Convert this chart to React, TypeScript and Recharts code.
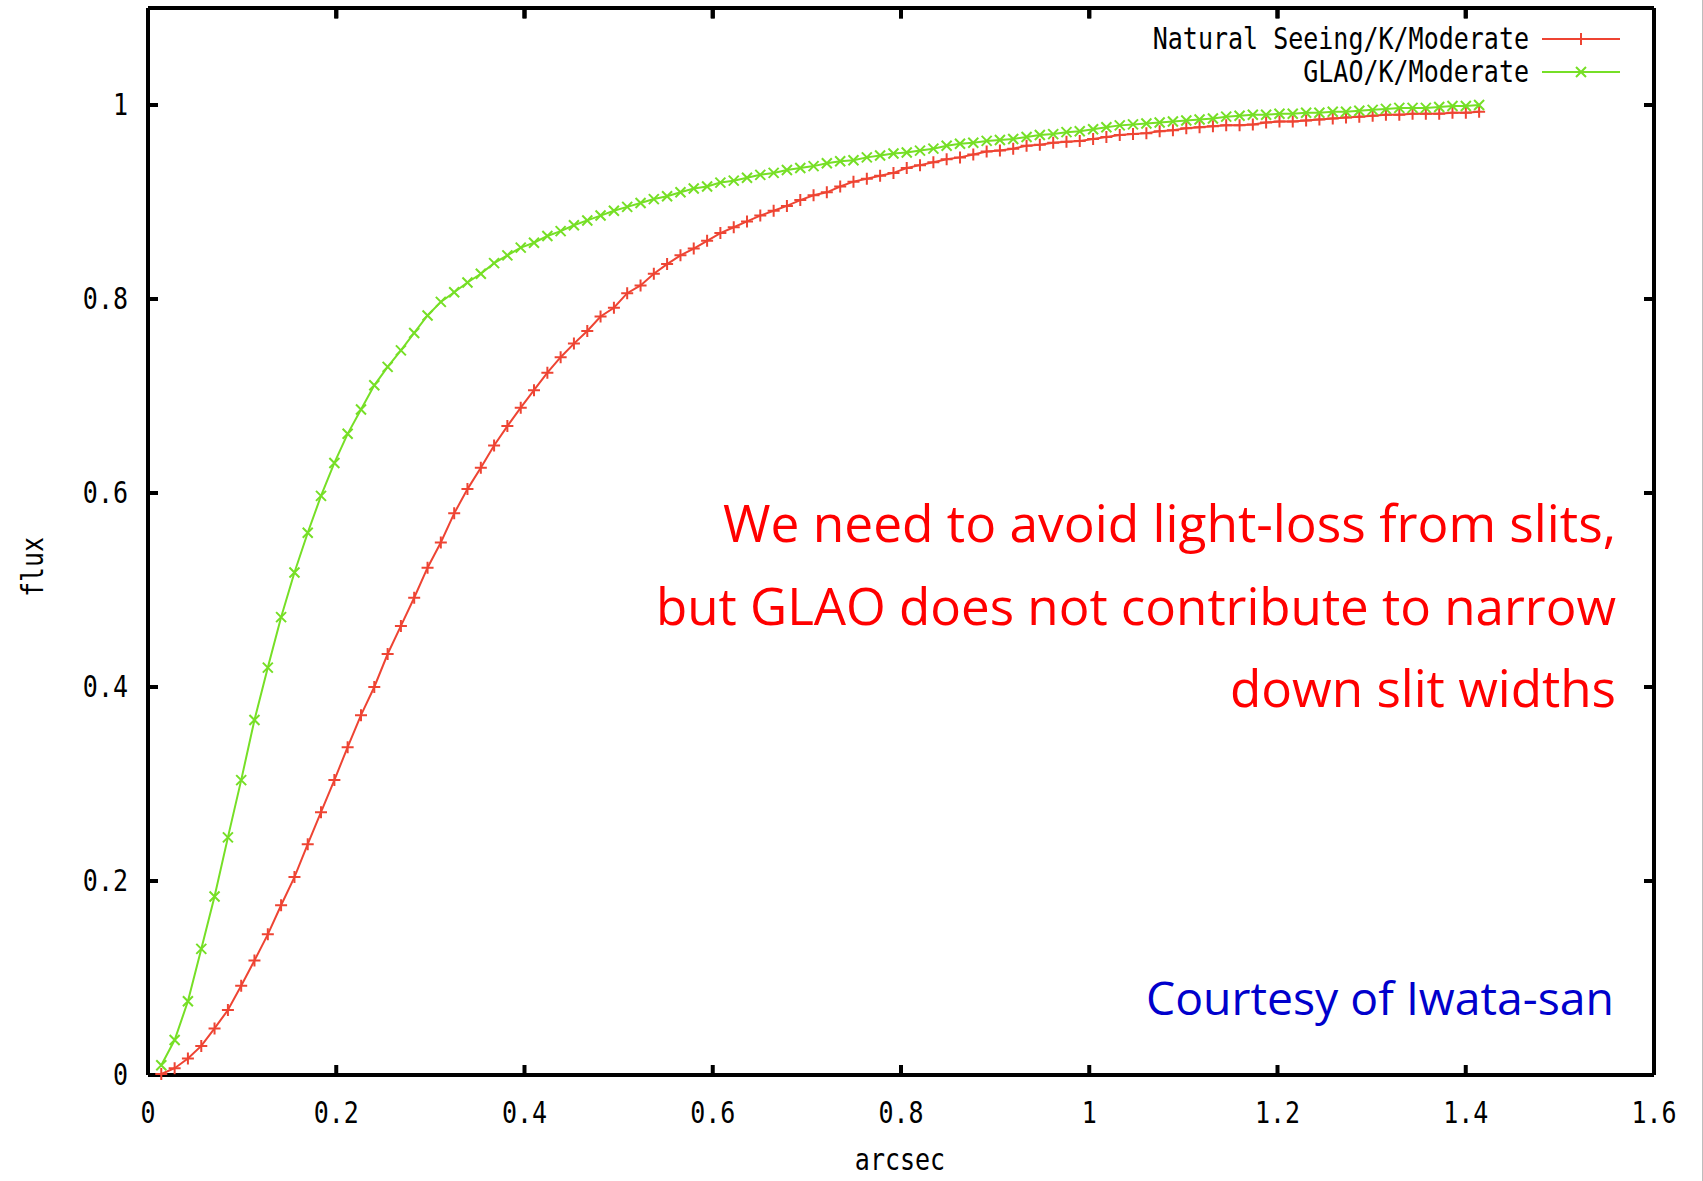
import { Line, LineChart, ReferenceLine, XAxis, YAxis } from 'recharts'

// sample radii (arcsec), one per plotted point
const ARCSEC = [
  0.0141, 0.0283, 0.0424, 0.0566, 0.0707, 0.0849, 0.099, 0.1131, 0.1273, 0.1414,
  0.1556, 0.1697, 0.1838, 0.198, 0.2121, 0.2263, 0.2404, 0.2546, 0.2687, 0.2828,
  0.297, 0.3111, 0.3253, 0.3394, 0.3536, 0.3677, 0.3818, 0.396, 0.4101, 0.4243,
  0.4384, 0.4525, 0.4667, 0.4808, 0.495, 0.5091, 0.5233, 0.5374, 0.5515, 0.5657,
  0.5798, 0.594, 0.6081, 0.6223, 0.6364, 0.6505, 0.6647, 0.6788, 0.693, 0.7071,
  0.7212, 0.7354, 0.7495, 0.7637, 0.7778, 0.792, 0.8061, 0.8202, 0.8344, 0.8485,
  0.8627, 0.8768, 0.891, 0.9051, 0.9192, 0.9334, 0.9475, 0.9617, 0.9758, 0.9899,
  1.0041, 1.0182, 1.0324, 1.0465, 1.0607, 1.0748, 1.0889, 1.1031, 1.1172, 1.1314,
  1.1455, 1.1597, 1.1738, 1.1879, 1.2021, 1.2162, 1.2304, 1.2445, 1.2587, 1.2728,
  1.2869, 1.3011, 1.3152, 1.3294, 1.3435, 1.3576, 1.3718, 1.3859, 1.4001, 1.4142,
]

const NATURAL_FLUX = [
  0.001, 0.007, 0.017, 0.03, 0.048, 0.067, 0.092, 0.118, 0.145, 0.175,
  0.204, 0.238, 0.271, 0.304, 0.338, 0.371, 0.4, 0.434, 0.463, 0.492,
  0.523, 0.549, 0.579, 0.604, 0.626, 0.649, 0.669, 0.688, 0.706, 0.724,
  0.74, 0.754, 0.767, 0.782, 0.791, 0.806, 0.814, 0.826, 0.836, 0.845,
  0.852, 0.86, 0.868, 0.874, 0.88, 0.886, 0.891, 0.896, 0.902, 0.907,
  0.91, 0.916, 0.921, 0.924, 0.927, 0.93, 0.935, 0.938, 0.941, 0.944,
  0.946, 0.949, 0.952, 0.953, 0.955, 0.958, 0.959, 0.961, 0.962, 0.963,
  0.965, 0.967, 0.969, 0.97, 0.971, 0.973, 0.974, 0.976, 0.977, 0.978,
  0.979, 0.979, 0.98, 0.982, 0.983, 0.983, 0.984, 0.985, 0.986, 0.987,
  0.988, 0.989, 0.99, 0.99, 0.991, 0.991, 0.991, 0.992, 0.992, 0.993,
]

const GLAO_FLUX = [
  0.01, 0.036, 0.076, 0.13, 0.184, 0.245, 0.304, 0.366, 0.42, 0.472,
  0.518, 0.559, 0.597, 0.631, 0.661, 0.686, 0.711, 0.73, 0.747, 0.765,
  0.783, 0.797, 0.807, 0.817, 0.826, 0.837, 0.845, 0.853, 0.858, 0.865,
  0.87, 0.876, 0.881, 0.886, 0.891, 0.895, 0.899, 0.903, 0.906, 0.91,
  0.914, 0.916, 0.92, 0.922, 0.925, 0.928, 0.93, 0.933, 0.935, 0.937,
  0.94, 0.942, 0.943, 0.946, 0.948, 0.95, 0.951, 0.953, 0.955, 0.958,
  0.96, 0.961, 0.963, 0.964, 0.965, 0.967, 0.969, 0.97, 0.972, 0.973,
  0.975, 0.977, 0.979, 0.98, 0.981, 0.982, 0.983, 0.984, 0.985, 0.986,
  0.988, 0.989, 0.99, 0.99, 0.991, 0.991, 0.992, 0.992, 0.993, 0.993,
  0.994, 0.995, 0.996, 0.997, 0.997, 0.997, 0.998, 0.999, 0.999, 1.0,
]

const X_TICKS = [0, 0.2, 0.4, 0.6, 0.8, 1, 1.2, 1.4, 1.6]
const Y_TICKS = [0, 0.2, 0.4, 0.6, 0.8, 1]
const Y_MAX = 1.1
const SERIES_NAMES = ['Natural Seeing/K/Moderate', 'GLAO/K/Moderate']
const NOTE_LINES = [
  'We need to avoid light-loss from slits,',
  'but GLAO does not contribute to narrow',
  'down slit widths',
]
const CREDIT = 'Courtesy of Iwata-san'

const RED = '#ee4433'
const GREEN = '#76df26'
const MONO = '"DejaVu Sans Mono", "Liberation Mono", monospace'
const SANS = '"Open Sans", "Noto Sans", sans-serif'

const data = ARCSEC.map((x, i) => ({ x, natural: NATURAL_FLUX[i], glao: GLAO_FLUX[i] }))

function plusPath(cx: number, cy: number, r: number) {
  return `M${cx - r},${cy}H${cx + r}M${cx},${cy - r}V${cy + r}`
}
function crossPath(cx: number, cy: number, r: number) {
  return `M${cx - r},${cy - r}L${cx + r},${cy + r}M${cx - r},${cy + r}L${cx + r},${cy - r}`
}

const PlusDot = (p: any) =>
  p.cx == null ? null : (
    <path key={`p${p.index}`} d={plusPath(p.cx, p.cy, 6)} stroke={RED} strokeWidth={2} fill="none" />
  )
const CrossDot = (p: any) =>
  p.cx == null ? null : (
    <path key={`c${p.index}`} d={crossPath(p.cx, p.cy, 5)} stroke={GREEN} strokeWidth={2} fill="none" />
  )

// gnuplot-ish tall mono labels
const MonoTick = ({ x, y, payload, anchor }: any) => (
  <g transform={`translate(${x},${y}) scale(1,1.2)`}>
    <text x={0} y={0} textAnchor={anchor} dominantBaseline="central" fontFamily={MONO} fontSize={25} fill="#000">
      {String(payload.value)}
    </text>
  </g>
)

const axisLine = { stroke: '#000', strokeWidth: 4 }
const tickLine = { stroke: '#000', strokeWidth: 4 }

export default function App() {
  return (
    <div
      style={{
        position: 'absolute',
        left: 0,
        top: 0,
        width: 1703,
        height: 1181,
        background: '#fff',
        boxSizing: 'border-box',
        borderRight: '1px solid #bdbdbd',
      }}
    >
      <LineChart width={1703} height={1181} data={data} margin={{ top: 8, right: 40, bottom: 46, left: 48 }}>
        <XAxis
          dataKey="x"
          type="number"
          domain={[0, 1.6]}
          ticks={X_TICKS}
          height={60}
          axisLine={axisLine}
          tickLine={tickLine}
          tickSize={-10}
          tickMargin={48}
          interval={0}
          tick={<MonoTick anchor="middle" />}
        />
        <XAxis
          xAxisId="top"
          dataKey="x"
          orientation="top"
          mirror
          type="number"
          domain={[0, 1.6]}
          ticks={X_TICKS}
          interval={0}
          height={12}
          axisLine={axisLine}
          tickLine={tickLine}
          tickSize={10}
          tickFormatter={() => ''}
        />
        <YAxis
          type="number"
          domain={[0, Y_MAX]}
          ticks={Y_TICKS}
          width={100}
          axisLine={axisLine}
          tickLine={tickLine}
          tickSize={-10}
          tickMargin={30}
          interval={0}
          tick={<MonoTick anchor="end" />}
        />
        <YAxis
          yAxisId="right"
          orientation="right"
          type="number"
          domain={[0, Y_MAX]}
          ticks={Y_TICKS}
          interval={0}
          width={9}
          axisLine={axisLine}
          tickLine={tickLine}
          tickSize={-10}
          tickFormatter={() => ''}
        />
        {/* top frame ticks, 1% of the y span long */}
        {X_TICKS.map((t) => (
          <ReferenceLine
            key={t}
            segment={[
              { x: t, y: Y_MAX },
              { x: t, y: Y_MAX * 0.99 },
            ]}
            stroke="#000"
            strokeWidth={4}
            ifOverflow="visible"
          />
        ))}
        {/* invisible series so the mirrored frame axes get scales */}
        <Line
          xAxisId="top"
          yAxisId="right"
          dataKey="glao"
          stroke="none"
          dot={false}
          activeDot={false}
          legendType="none"
          isAnimationActive={false}
        />
        <Line
          dataKey="natural"
          name={SERIES_NAMES[0]}
          type="linear"
          stroke={RED}
          strokeWidth={2}
          dot={PlusDot}
          activeDot={false}
          isAnimationActive={false}
        />
        <Line
          dataKey="glao"
          name={SERIES_NAMES[1]}
          type="linear"
          stroke={GREEN}
          strokeWidth={2}
          dot={CrossDot}
          activeDot={false}
          isAnimationActive={false}
        />
      </LineChart>

      <svg
        width={1703}
        height={1181}
        style={{ position: 'absolute', left: 0, top: 0, pointerEvents: 'none' }}
      >
        {/* axis titles */}
        <g transform="translate(33,567) rotate(-90) scale(1,1.2)">
          <text textAnchor="middle" dominantBaseline="central" fontFamily={MONO} fontSize={25}>
            flux
          </text>
        </g>
        <g transform="translate(900,1160) scale(1,1.2)">
          <text textAnchor="middle" dominantBaseline="central" fontFamily={MONO} fontSize={25}>
            arcsec
          </text>
        </g>

        {/* key */}
        {SERIES_NAMES.map((name, i) => {
          const y = 39 + i * 33
          const color = i === 0 ? RED : GREEN
          return (
            <g key={name}>
              <g transform={`translate(1529,${y}) scale(1,1.2)`}>
                <text textAnchor="end" dominantBaseline="central" fontFamily={MONO} fontSize={25}>
                  {name}
                </text>
              </g>
              <line x1={1542} x2={1620} y1={y} y2={y} stroke={color} strokeWidth={2} />
              <path
                d={i === 0 ? plusPath(1581, y, 6) : crossPath(1581, y, 5)}
                stroke={color}
                strokeWidth={2}
                fill="none"
              />
            </g>
          )
        })}

        {/* annotation */}
        {NOTE_LINES.map((t, i) => (
          <text
            key={t}
            x={1616}
            y={542 + i * 82.5}
            textAnchor="end"
            fontFamily={SANS}
            fontSize={52}
            fill="#ff0000"
            textLength={[893, 960, 386][i]}
            lengthAdjust="spacingAndGlyphs"
          >
            {t}
          </text>
        ))}
        <text
          x={1614}
          y={1015}
          textAnchor="end"
          fontFamily={SANS}
          fontSize={46}
          fill="#0000cc"
          textLength={468}
          lengthAdjust="spacingAndGlyphs"
        >
          {CREDIT}
        </text>
      </svg>
    </div>
  )
}
